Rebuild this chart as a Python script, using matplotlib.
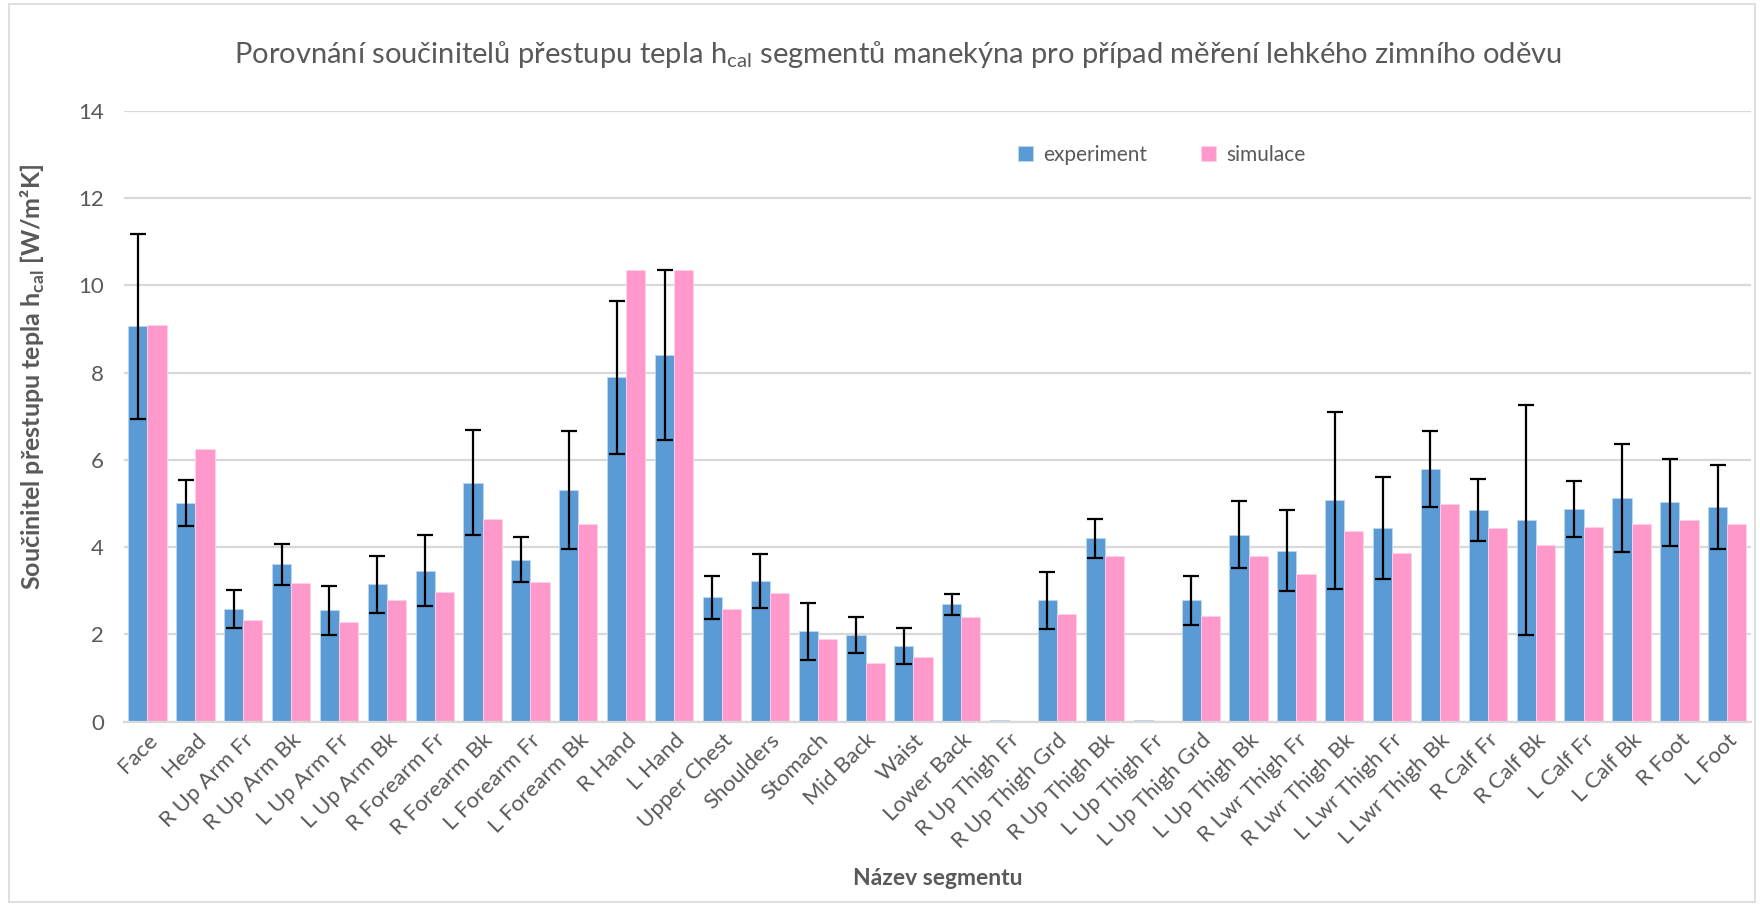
import numpy as np
import matplotlib
matplotlib.use('Agg')
import matplotlib.pyplot as plt
from matplotlib.patches import Rectangle

segments = ['Face', 'Head', 'R Up Arm Fr', 'R Up Arm Bk', 'L Up Arm Fr', 'L Up Arm Bk',
            'R Forearm Fr', 'R Forearm Bk', 'L Forearm Fr', 'L Forearm Bk', 'R Hand', 'L Hand',
            'Upper Chest', 'Shoulders', 'Stomach', 'Mid Back', 'Waist', 'Lower Back',
            'R Up Thigh Fr', 'R Up Thigh Grd', 'R Up Thigh Bk', 'L Up Thigh Fr', 'L Up Thigh Grd',
            'L Up Thigh Bk', 'R Lwr Thigh Fr', 'R Lwr Thigh Bk', 'L Lwr Thigh Fr', 'L Lwr Thigh Bk',
            'R Calf Fr', 'R Calf Bk', 'L Calf Fr', 'L Calf Bk', 'R Foot', 'L Foot']

experiment = [9.06, 5.02, 2.58, 3.61, 2.55, 3.15, 3.46, 5.48, 3.71, 5.31, 7.89, 8.41,
              2.85, 3.22, 2.07, 1.98, 1.74, 2.69, 0.03, 2.78, 4.20, 0.03, 2.78,
              4.29, 3.92, 5.07, 4.44, 5.80, 4.85, 4.62, 4.88, 5.13, 5.03, 4.92]

experiment_err = [2.13, 0.53, 0.44, 0.47, 0.56, 0.65, 0.81, 1.20, 0.52, 1.35, 1.76, 1.95,
                  0.50, 0.62, 0.65, 0.41, 0.41, 0.24, 0.0, 0.66, 0.45, 0.0, 0.57,
                  0.76, 0.93, 2.03, 1.17, 0.87, 0.72, 2.63, 0.64, 1.23, 1.00, 0.97]

simulace = [9.10, 6.24, 2.32, 3.17, 2.28, 2.78, 2.98, 4.65, 3.20, 4.53, 10.36, 10.35,
            2.59, 2.94, 1.89, 1.34, 1.48, 2.40, 0.0, 2.47, 3.79, 0.0, 2.43,
            3.80, 3.39, 4.37, 3.86, 5.00, 4.44, 4.06, 4.47, 4.54, 4.63, 4.52]

plt.rcParams['font.family'] = ['Lato', 'DejaVu Sans']
plt.rcParams['mathtext.fontset'] = 'custom'
plt.rcParams['mathtext.rm'] = 'Lato'
plt.rcParams['mathtext.bf'] = 'Lato:bold'

TXT = '#595959'
GRID = '#d9d9d9'

fig = plt.figure(figsize=(17.6, 9.06), dpi=100)
ax = fig.add_axes([0.0702, 0.2035, 0.9248, 0.674])

x = np.arange(len(segments))
w = 0.4
exp = np.array(experiment)
err = np.array(experiment_err)
has_err = err > 0

ax.bar(x - w / 2, exp, w, color='#5b9bd5', edgecolor='#bdd7ee', linewidth=0.6,
       label='experiment', zorder=2)
# segments without a measured spread get no error bar
ax.errorbar((x - w / 2)[has_err], exp[has_err], yerr=err[has_err], fmt='none',
            ecolor='black', elinewidth=1.6, capsize=6, capthick=1.6, zorder=3)
ax.bar(x + w / 2, simulace, w, color='#ff99cc', edgecolor='#ffd1e8', linewidth=0.6,
       label='simulace', zorder=2)

ax.set_xlim(-0.5, len(segments) - 0.5)
ax.set_ylim(0, 14)
ax.set_yticks(range(0, 15, 2))
ax.yaxis.grid(True, color=GRID, linewidth=1.6, zorder=0)
ax.set_axisbelow(True)
for s in ['top', 'right', 'left']:
    ax.spines[s].set_visible(False)
ax.spines['bottom'].set_color(GRID)
ax.spines['bottom'].set_linewidth(1.6)
ax.tick_params(axis='both', length=0, colors=TXT, labelsize=16)
ax.tick_params(axis='y', pad=14)
ax.tick_params(axis='x', pad=6)
ax.set_xticks(x)
ax.set_xticklabels(segments, rotation=45, ha='right', rotation_mode='anchor')

ax.set_ylabel(r'Součinitel přestupu tepla $\mathbf{h}_{\mathbf{cal}}$ [W/m²K]',
              fontsize=18, fontweight='bold', color=TXT)
ax.yaxis.set_label_coords(-0.047, 0.565)
ax.set_xlabel('Název segmentu', fontsize=16.5, fontweight='bold', color=TXT)
ax.xaxis.set_label_coords(0.5, -0.24)

fig.text(0.51, 0.94, r'Porovnání součinitelů přestupu tepla h$_{\mathrm{cal}}$ segmentů manekýna pro případ měření lehkého zimního oděvu',
         ha='center', va='center', fontsize=21, color=TXT)

ax.legend(loc='center', bbox_to_anchor=(0.638, 0.928), ncol=2, frameon=False,
          fontsize=15, labelcolor=TXT, handlelength=0.7, handleheight=0.7,
          columnspacing=2.6, handletextpad=0.5)

fig.patches.append(Rectangle((0.005, 0.004), 0.992, 0.992, transform=fig.transFigure,
                             fill=False, edgecolor=GRID, linewidth=1.2))

fig.savefig('out.png', dpi=100, facecolor='white')
